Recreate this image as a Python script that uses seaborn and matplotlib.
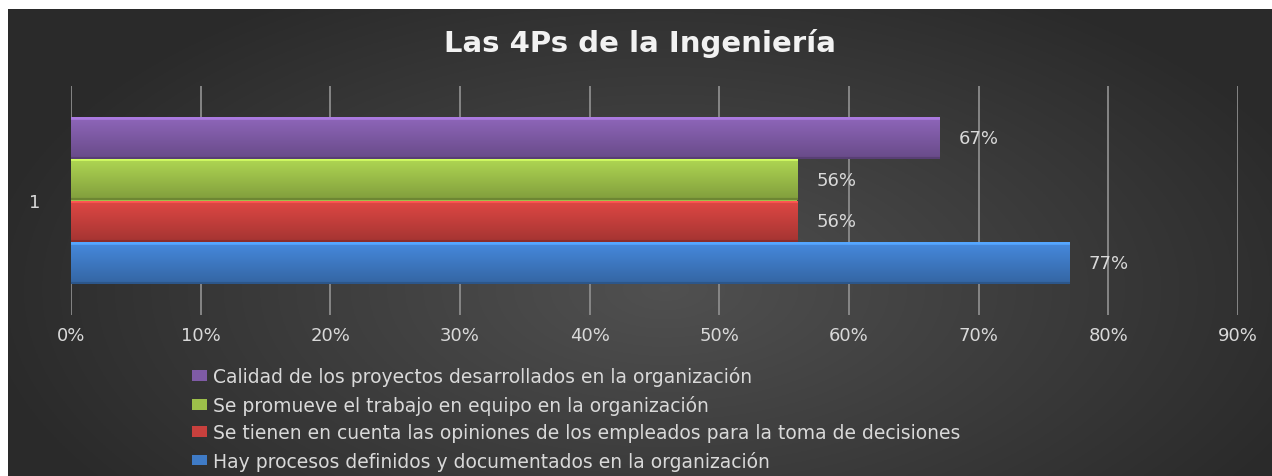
import numpy as np
import pandas as pd
import matplotlib
matplotlib.use("Agg")
import matplotlib.pyplot as plt
from matplotlib.colors import to_rgb
import seaborn as sns

# datos
categorias = ["1"]
series = [
    "Calidad de los proyectos desarrollados en la organización",
    "Se promueve el trabajo en equipo en la organización",
    "Se tienen en cuenta las opiniones de los empleados para la toma de decisiones",
    "Hay procesos definidos y documentados en la organización",
]
valores = [0.67, 0.56, 0.56, 0.77]
colores = ["#7f5ba6", "#9dc04a", "#c8403d", "#3f7bc6"]
ticks_x = [0.0, 0.1, 0.2, 0.3, 0.4, 0.5, 0.6, 0.7, 0.8, 0.9]

df = pd.DataFrame({"cat": categorias * len(series), "serie": series, "valor": valores})

sns.set_style("dark")
plt.rcParams["font.family"] = ["DejaVu Sans"]

W, H = 1272, 477
fig = plt.figure(figsize=(W / 100, H / 100), dpi=100, facecolor="white")

# fondo oscuro con degradado radial
bg = fig.add_axes([8 / W, 0, 1 - 8 / W, 1 - 10 / H])
yy, xx = np.mgrid[0:1:300j, 0:1:800j]
r = np.sqrt(((xx - 0.52) / 0.55) ** 2 + ((yy - 0.6) / 0.75) ** 2)
lum = 0.315 - 0.15 * np.clip(r, 0, 1)
bg.imshow(np.dstack([lum, lum, lum]), aspect="auto", extent=(0, 1, 0, 1), origin="upper")
bg.set_axis_off()

ax = fig.add_axes([71 / W, 1 - 316 / H, (1238 - 71) / W, (316 - 87) / H])
ax.set_facecolor("none")

sns.barplot(data=df, y="cat", x="valor", hue="serie", hue_order=series,
            palette=colores, saturation=1, orient="h", width=0.73, ax=ax,
            legend=True, edgecolor="none", linewidth=0)

handles, labels = ax.get_legend_handles_labels()
ax.get_legend().remove()

# brillo de las barras
for cont, col in zip(ax.containers, colores):
    base = np.array(to_rgb(col))
    t = np.linspace(0, 1, 60)[:, None]
    fac = 1.12 - 0.3 * t
    fac[:4] = 1.35
    fac[-3:] = 0.7
    grad = np.clip(base[None, :] * fac, 0, 1)[:, None, :]
    for p in cont:
        x0, y0, w, h = p.get_x(), p.get_y(), p.get_width(), p.get_height()
        im = ax.imshow(grad, extent=(x0, x0 + w, y0 + h, y0), origin="upper",
                       aspect="auto", zorder=p.get_zorder() + 0.1)
        im.set_clip_path(p)
    ax.bar_label(cont, fmt="{:.0%}", padding=14, color="#d9d9d9", fontsize=13)

ax.set_xlim(0, 0.9)
ax.set_ylim(0.5, -0.5)
ax.set_xticks(ticks_x)
ax.set_xticklabels([f"{v:.0%}" for v in ticks_x])
ax.set_xlabel("")
ax.set_ylabel("")
ax.grid(axis="x", color="#8c8c8c", linewidth=1.3)
ax.grid(axis="y", visible=False)
ax.set_axisbelow(True)
for s in ax.spines.values():
    s.set_visible(False)
ax.tick_params(axis="x", length=0, pad=8, colors="#d9d9d9", labelsize=13)
ax.tick_params(axis="y", length=0, pad=22, colors="#d9d9d9", labelsize=13)

fig.text(0.503, 1 - 43 / H, "Las 4Ps de la Ingeniería", ha="center", va="center",
         fontsize=21, fontweight="bold", color="#f2f2f2")

leg = fig.legend(handles, labels, loc="upper left", bbox_to_anchor=(183 / W, 1 - 358 / H),
                 frameon=False, fontsize=13.5, labelcolor="#d9d9d9", borderpad=0,
                 labelspacing=0.45, handlelength=0.8, handleheight=0.5, handletextpad=0.3)
for hd in leg.legend_handles:
    hd.set_edgecolor("none")

fig.savefig("out.png", dpi=100, facecolor="white")
